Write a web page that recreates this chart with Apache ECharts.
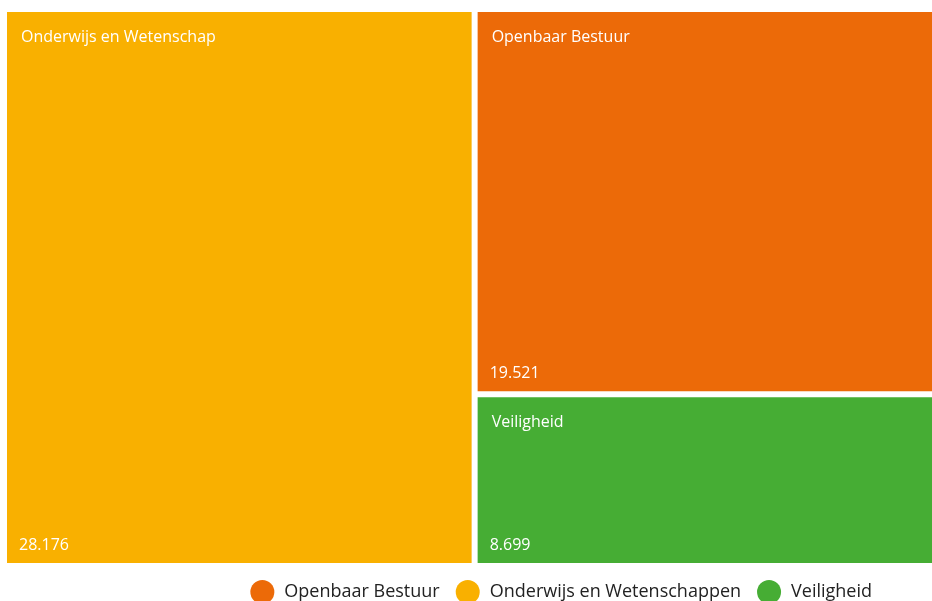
<!DOCTYPE html>
<html>
<head>
<meta charset="utf-8">
<script src="https://cdn.jsdelivr.net/npm/echarts@6/dist/echarts.min.js"></script>
<style>
    html, body { margin: 0; padding: 0; background: #fff; }
    #chart { width: 932px; height: 601px; }
</style>
</head>
<body>
<div id="chart"></div>
<script>
var categories = ['Openbaar Bestuur', 'Onderwijs en Wetenschappen', 'Veiligheid'];
var tileLabels = ['Openbaar Bestuur', 'Onderwijs en Wetenschap', 'Veiligheid'];
var values = [19521, 28176, 8699];
var colors = ['#EC6A08', '#F9B000', '#46AD34'];

function fmt(v) {
    return String(v).replace(/\B(?=(\d{3})+(?!\d))/g, '.');
}

window.onload = function() {
    var chart = echarts.init(document.getElementById('chart'));

    var tiles = categories.map(function(name, i) {
        return {
            name: name,
            value: values[i],
            label: { formatter: tileLabels[i] },
            itemStyle: { color: colors[i] }
        };
    });
    // tweede laag alleen voor de waarden linksonder
    var valueTiles = categories.map(function(name, i) {
        return {
            name: name,
            value: values[i],
            itemStyle: { color: 'rgba(0,0,0,0)' }
        };
    });

    var common = {
        type: 'treemap',
        left: 7,
        top: 12,
        width: 936,
        height: 551,
        roam: false,
        nodeClick: false,
        breadcrumb: { show: false },
        animation: false,
        levels: [{
            itemStyle: { gapWidth: 6, borderWidth: 0 }
        }]
    };

    var legendSeries = categories.map(function(name, i) {
        return {
            name: name,
            type: 'scatter',
            data: [],
            itemStyle: { color: colors[i], opacity: 1 }
        };
    });

    chart.setOption({
        textStyle: { fontFamily: 'Open Sans' },
        title: {
            text: 'Uitgaven per beleidsterrein (in miljoen euro)',
            left: 'center',
            top: -27,
            textStyle: { color: '#1591D6', fontSize: 22, fontWeight: 'bold' }
        },
        grid: { show: false },
        xAxis: { show: false },
        yAxis: { show: false },
        legend: {
            data: categories,
            right: 55,
            top: 575,
            icon: 'circle',
            itemWidth: 24,
            itemHeight: 24,
            itemGap: 16,
            itemStyle: { opacity: 1 },
            textStyle: { fontSize: 18, color: '#222', padding: [0, 0, 0, 5] }
        },
        series: [Object.assign({}, common, {
            name: 'tiles',
            data: tiles,
            label: {
                show: true,
                position: [9, 12],
                color: '#fff',
                fontSize: 16
            },
            itemStyle: { gapWidth: 6, borderWidth: 0 }
        }), Object.assign({}, common, {
            name: 'waarden',
            silent: true,
            data: valueTiles,
            label: {
                show: true,
                position: 'insideBottomLeft',
                distance: 10,
                padding: [0, 0, 0, 2],
                color: '#fff',
                fontSize: 16,
                formatter: function(p) { return fmt(p.value); }
            },
            itemStyle: { gapWidth: 6, borderWidth: 0 }
        })].concat(legendSeries)
    });
};
</script>
</body>
</html>
